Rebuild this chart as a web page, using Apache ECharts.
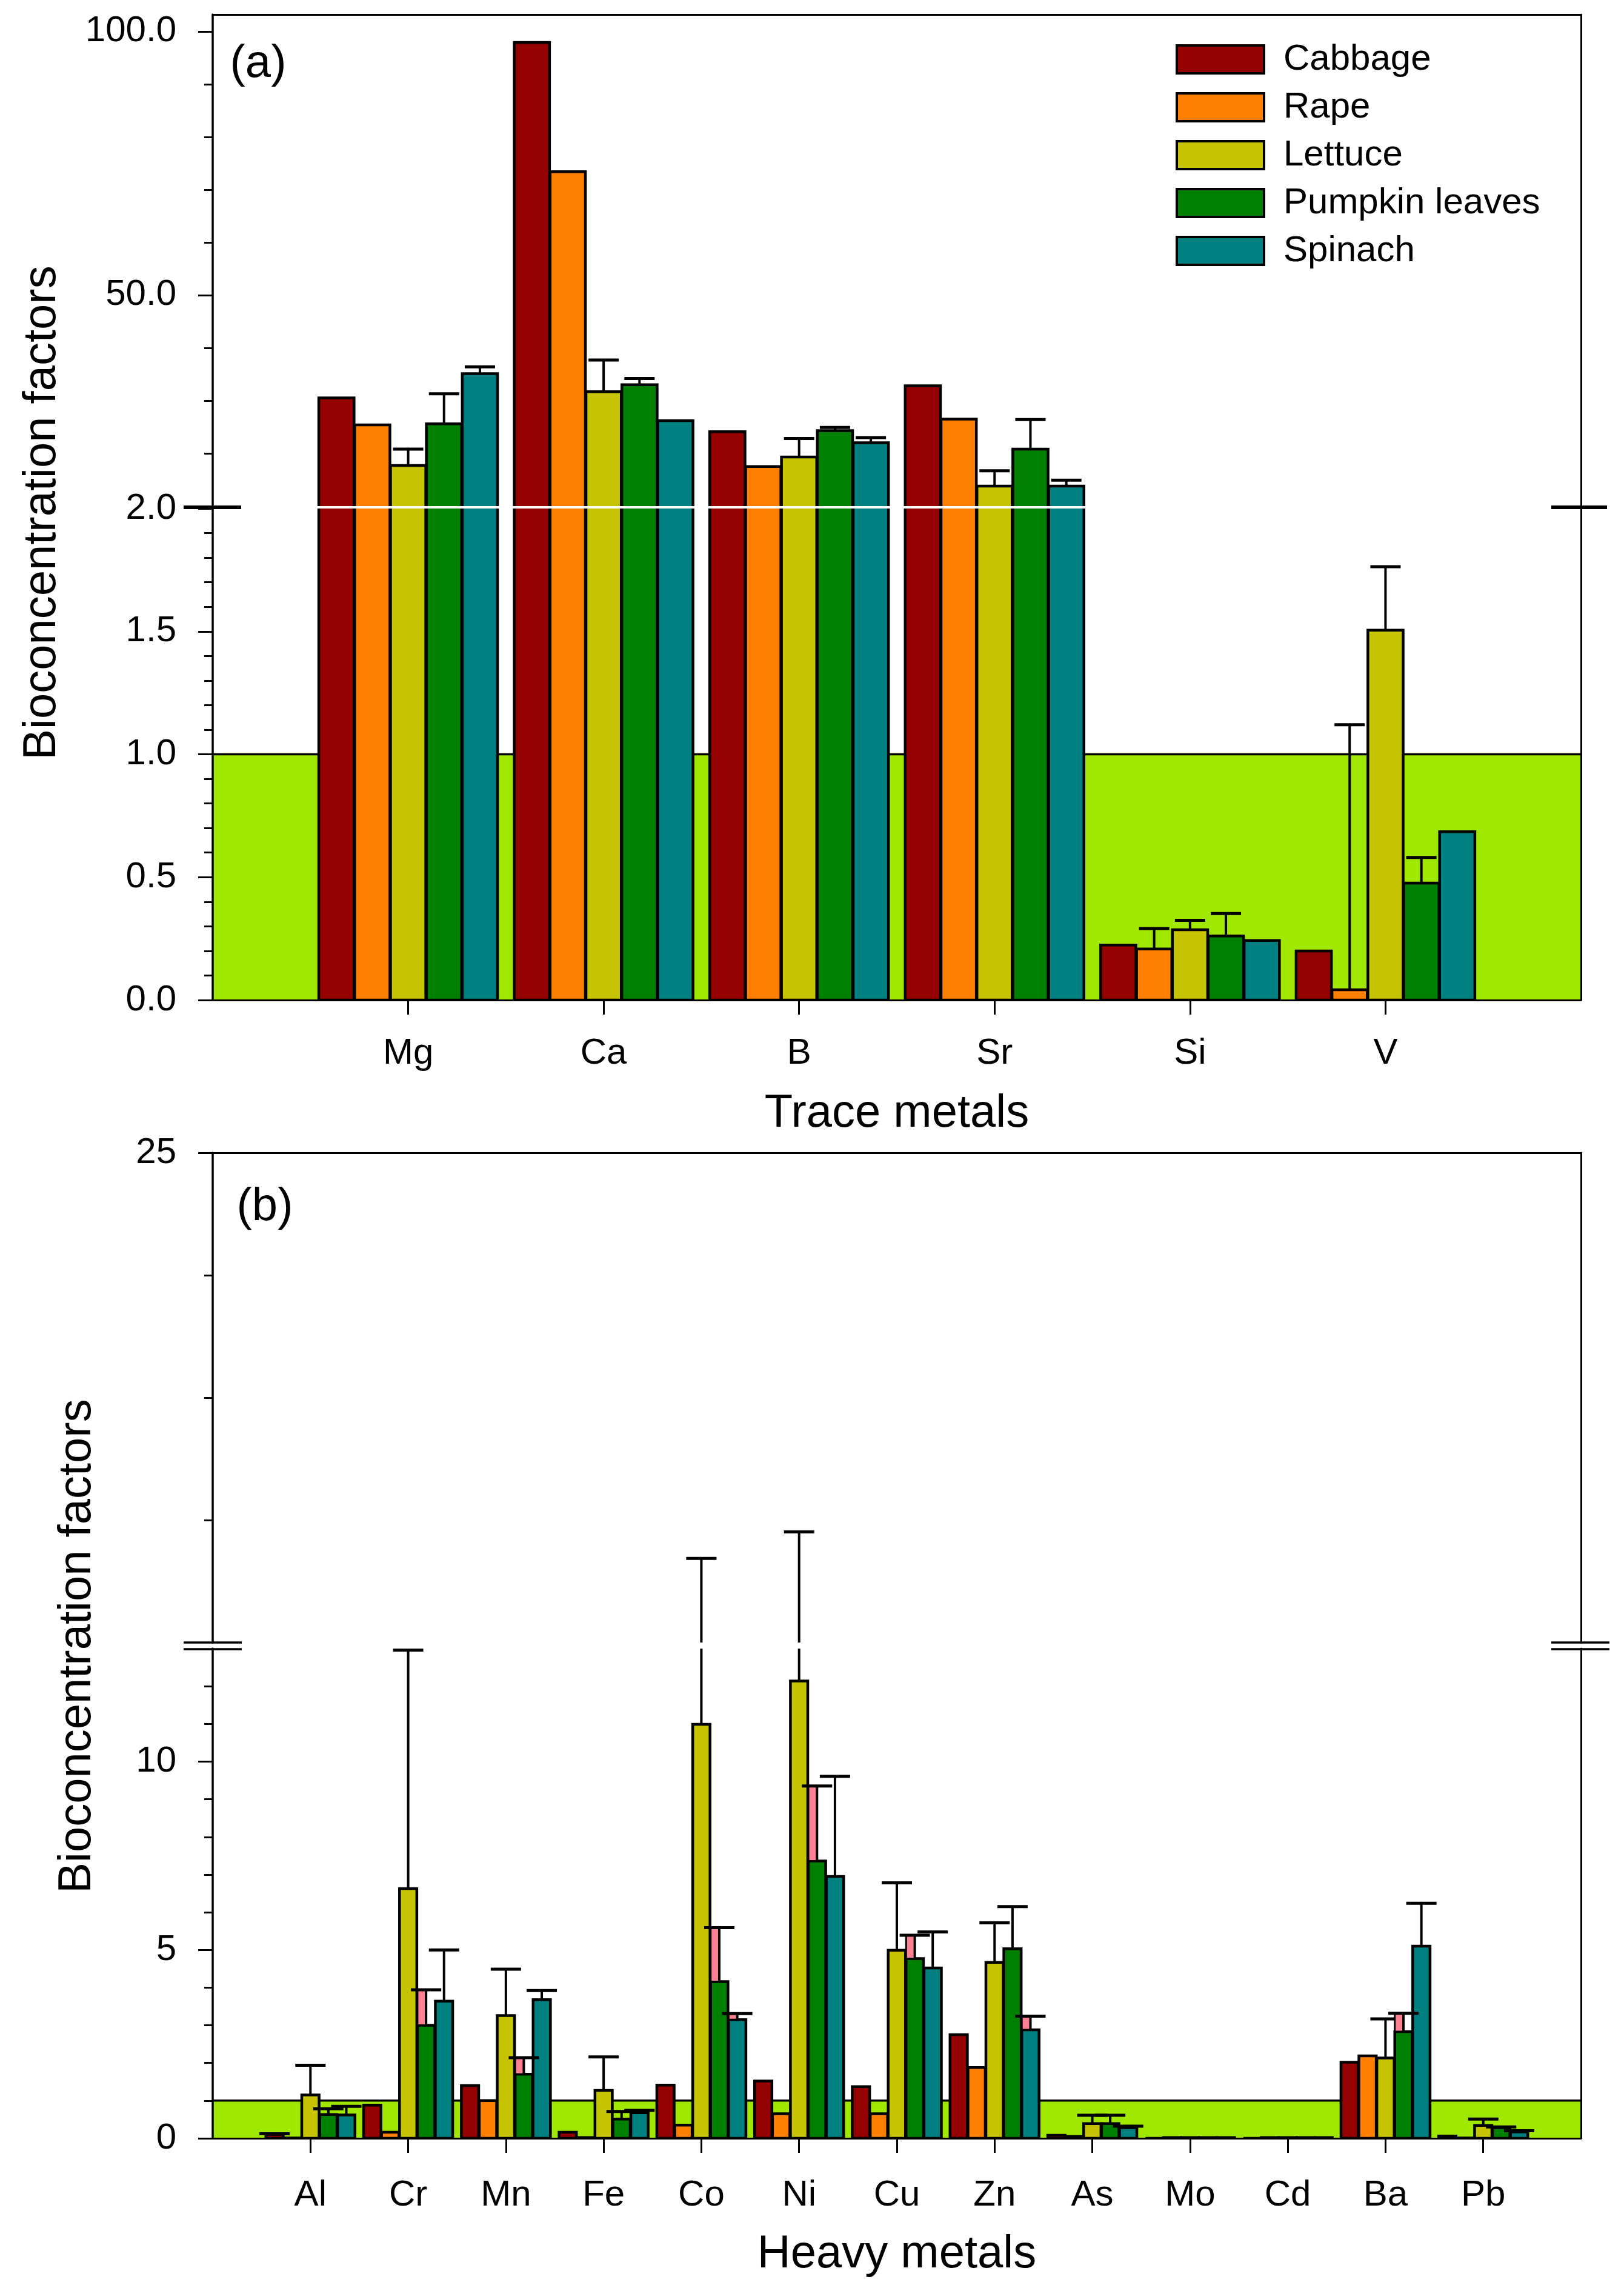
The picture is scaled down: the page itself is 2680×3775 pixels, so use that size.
<!DOCTYPE html>
<html lang="en">
<head>
<meta charset="UTF-8">
<script src="https://cdn.jsdelivr.net/npm/echarts@6/dist/echarts.min.js"></script>
<style>
    * { margin: 0; padding: 0; }
    body { background: #fff; }
    #chart { width: 2680px; height: 3775px; }
</style>
</head>
<body>
<div id="chart"></div>
<script>
    // vegetables (legend order)
    var vegNames = ['Cabbage', 'Rape', 'Lettuce', 'Pumpkin leaves', 'Spinach'];

    // panel (a) trace metals
    var traceMetals = ['Mg', 'Ca', 'B', 'Sr', 'Si', 'V'];
    var cabbageA = [30.5, 97.9, 24.1, 32.8, 0.224, 0.20];
    var rapeA    = [25.4, 73.4, 17.5, 26.5, 0.208, 0.042];
    var lettuceA = [17.7, 31.7, 19.3, 13.8, 0.286, 1.505];
    var pumpkinA = [25.6, 33.0, 24.3, 20.8, 0.261, 0.476];
    var spinachA = [35.1, 26.2, 22.0, 13.8, 0.242, 0.685];
    var cabbageAErr = [0, 0, 0, 0, 0, 0];
    var rapeAErr    = [0, 0, 0, 0, 0.083, 1.078];
    var lettuceAErr = [3.1, 6.0, 3.5, 2.9, 0.038, 0.258];
    var pumpkinAErr = [5.7, 1.2, 0.6, 5.6, 0.091, 0.104];
    var spinachAErr = [1.3, 0, 1.0, 1.1, 0, 0];

    // panel (b) heavy metals
    var heavyMetals = ['Al', 'Cr', 'Mn', 'Fe', 'Co', 'Ni', 'Cu', 'Zn', 'As', 'Mo', 'Cd', 'Ba', 'Pb'];
    var cabbageB = [0.10, 0.88, 1.40, 0.16, 1.41, 1.52, 1.37, 2.75, 0.08, 0, 0, 2.02, 0.06];
    var rapeB    = [0.01, 0.16, 1.00, 0.02, 0.35, 0.65, 0.65, 1.88, 0.05, 0.02, 0.02, 2.19, 0.01];
    var lettuceB = [1.15, 6.63, 3.26, 1.27, 10.99, 12.14, 4.99, 4.67, 0.39, 0.02, 0.02, 2.13, 0.34];
    var pumpkinB = [0.63, 3.00, 1.70, 0.51, 4.16, 7.36, 4.77, 5.03, 0.39, 0.02, 0.02, 2.83, 0.28];
    var spinachB = [0.62, 3.64, 3.68, 0.68, 3.15, 6.95, 4.52, 2.88, 0.28, 0.02, 0.02, 5.10, 0.17];
    var cabbageBErr = [0.02, 0, 0, 0, 0, 0, 0, 0, 0, 0, 0, 0, 0];
    var rapeBErr    = [0, 0, 0, 0, 0, 0, 0, 0, 0, 0, 0, 0, 0];
    var lettuceBErr = [0.79, 6.33, 1.23, 0.89, 4.07, 3.57, 1.79, 1.05, 0.22, 0, 0, 1.04, 0.17];
    var pumpkinBErr = [0.155, 0.94, 0.44, 0.20, 1.43, 1.99, 0.62, 1.12, 0.22, 0, 0, 0.49, 0.02];
    var spinachBErr = [0.23, 1.36, 0.24, 0.06, 0.16, 2.66, 0.96, 0.36, 0.04, 0, 0, 1.14, 0.03];
    // error bars drawn with the pink fill: [metal index, vegetable index]
    var pinkB = [[1, 3], [2, 3], [4, 3], [5, 3], [6, 3], [11, 3], [4, 4], [7, 4]];

    // tick values
    var labelsAHigh = [50, 100];
    var minorAHigh  = [20, 30, 40, 60, 70, 80, 90];
    var labelsALow  = [0, 0.5, 1, 1.5, 2];
    var minorALow   = [0.1, 0.2, 0.3, 0.4, 0.6, 0.7, 0.8, 0.9, 1.1, 1.2, 1.3, 1.4, 1.6, 1.7, 1.8, 1.9];
    var labelsBHigh = [25];
    var minorBHigh  = [16, 19, 22];
    var labelsBLow  = [0, 5, 10];
    var minorBLow   = [1, 2, 3, 4, 6, 7, 8, 9, 11, 12];
    var threshold = 1;

    var valsA = [cabbageA, rapeA, lettuceA, pumpkinA, spinachA];
    var errsA = [cabbageAErr, rapeAErr, lettuceAErr, pumpkinAErr, spinachAErr];
    var valsB = [cabbageB, rapeB, lettuceB, pumpkinB, spinachB];
    var errsB = [cabbageBErr, rapeBErr, lettuceBErr, pumpkinBErr, spinachBErr];

    var vegColors = ['#950000', '#ff8000', '#c6c300', '#008000', '#008080'];
    var FONT = 'Liberation Sans, Arial, sans-serif';

    var chart = echarts.init(document.getElementById('chart'));

    function padCats(list) {
        return [''].concat(list, ['']);
    }

    function catAxis(gi, cats, bottom, name, margin, gap) {
        var ax = {
            type: 'category', gridIndex: gi, data: padCats(cats), boundaryGap: false,
            position: bottom ? 'bottom' : 'top', z: 10,
            axisLine: {show: true, onZero: false, lineStyle: {color: '#000', width: 3}},
            splitLine: {show: false}
        };
        if (bottom) {
            ax.axisTick = {show: true, length: 24, lineStyle: {color: '#000', width: 3},
                interval: function (i) { return i > 0 && i <= cats.length; }};
            ax.axisLabel = {show: true, interval: 0, margin: margin, fontSize: 60, fontFamily: FONT, color: '#000'};
            ax.name = name;
            ax.nameLocation = 'middle';
            ax.nameGap = gap;
            ax.nameTextStyle = {fontSize: 76, fontFamily: FONT, color: '#000'};
        } else {
            ax.axisTick = {show: false};
            ax.axisLabel = {show: false};
        }
        return ax;
    }

    function valAxes(gi, lo, hi, labels, minors, fmt) {
        function base(extra) {
            var o = {type: 'value', gridIndex: gi, min: lo, max: hi, z: 10, splitLine: {show: false}};
            for (var k in extra) o[k] = extra[k];
            return o;
        }
        return [
            base({position: 'left',
                axisLine: {show: true, onZero: false, lineStyle: {color: '#000', width: 3.5}},
                axisTick: {show: true, customValues: labels, length: 24, lineStyle: {color: '#000', width: 3}},
                axisLabel: {show: true, customValues: labels, formatter: fmt, margin: 60,
                    fontSize: 60, fontFamily: FONT, color: '#000'}}),
            base({position: 'left',
                axisLine: {show: false},
                axisTick: {show: true, customValues: minors, length: 14, lineStyle: {color: '#000', width: 3}},
                axisLabel: {show: false}}),
            base({position: 'right',
                axisLine: {show: true, onZero: false, lineStyle: {color: '#000', width: 3}},
                axisTick: {show: false}, axisLabel: {show: false}})
        ];
    }

    function fmt1(v) { return v.toFixed(1); }
    function fmt0(v) { return String(v); }

    function barRender(k) {
        return function (params, api) {
            var ci = api.value(0), v = api.value(1);
            var band = api.size([1, 0])[0];
            var pitch = band * 0.1835;
            var base = api.coord([ci, 0]);
            var xc = base[0] + (k - 2) * pitch;
            var yTop = api.coord([ci, v])[1];
            var w = pitch - 1;
            return {
                type: 'rect',
                shape: {x: xc - w / 2, y: yTop, width: w, height: base[1] - yTop},
                style: {fill: vegColors[k], stroke: '#000', lineWidth: 4.5}
            };
        };
    }

    function errRender(k) {
        return function (params, api) {
            var ci = api.value(0), v = api.value(1), e = api.value(2), pk = api.value(3);
            if (!(e > 0)) return;
            var band = api.size([1, 0])[0];
            var pitch = band * 0.1835;
            var xc = api.coord([ci, 0])[0] + (k - 2) * pitch;
            var y1 = api.coord([ci, v])[1];
            var y2 = api.coord([ci, v + e])[1];
            var w = pitch - 1;
            var kids = [];
            if (pk) {
                kids.push({type: 'rect', shape: {x: xc - w / 2, y: y2, width: w / 2, height: y1 - y2},
                    style: {fill: '#ff8092', stroke: '#000', lineWidth: 3}});
            }
            kids.push({type: 'line', shape: {x1: xc, y1: y1, x2: xc, y2: y2},
                style: {stroke: '#000', lineWidth: 4}});
            kids.push({type: 'line', shape: {x1: xc - 25, y1: y2, x2: xc + 25, y2: y2},
                style: {stroke: '#000', lineWidth: 5}});
            return {type: 'group', children: kids};
        };
    }

    function isPink(list, i, k) {
        for (var j = 0; j < list.length; j++) {
            if (list[j][0] === i && list[j][1] === k) return 1;
        }
        return 0;
    }

    function panelSeries(gi, vals, errs, pinks) {
        var out = [];
        for (var k = 0; k < vals.length; k++) {
            var data = vals[k].map(function (v, i) {
                return [i + 1, v, errs[k][i], isPink(pinks, i, k)];
            });
            out.push({type: 'custom', name: vegNames[k], xAxisIndex: gi, yAxisIndex: gi * 3,
                clip: true, z: 3, silent: true, itemStyle: {color: vegColors[k]},
                encode: {x: 0, y: 1}, data: data, renderItem: barRender(k)});
        }
        for (var k2 = 0; k2 < vals.length; k2++) {
            var data2 = vals[k2].map(function (v, i) {
                return [i + 1, v, errs[k2][i], isPink(pinks, i, k2)];
            });
            out.push({type: 'custom', name: vegNames[k2], xAxisIndex: gi, yAxisIndex: gi * 3,
                clip: true, z: 4, silent: true, itemStyle: {color: vegColors[k2]},
                encode: {x: 0, y: 1}, data: data2, renderItem: errRender(k2)});
        }
        return out;
    }

    function bandSeries(gi) {
        return {
            type: 'custom', xAxisIndex: gi, yAxisIndex: gi * 3, z: 1, silent: true, clip: true,
            encode: {x: 0, y: 1}, data: [[0, threshold]],
            renderItem: function (params, api) {
                var cs = params.coordSys;
                var y = api.coord([0, api.value(1)])[1];
                var y0 = api.coord([0, 0])[1];
                return {type: 'group', children: [
                    {type: 'rect', shape: {x: cs.x, y: y, width: cs.width, height: y0 - y},
                        style: {fill: '#a0e800'}},
                    {type: 'line', shape: {x1: cs.x, y1: y, x2: cs.x + cs.width, y2: y},
                        style: {stroke: '#000', lineWidth: 3.5}}
                ]};
            }
        };
    }

    var series = [bandSeries(1), bandSeries(3)]
        .concat(panelSeries(0, valsA, errsA, []))
        .concat(panelSeries(1, valsA, errsA, []))
        .concat(panelSeries(2, valsB, errsB, pinkB))
        .concat(panelSeries(3, valsB, errsB, pinkB));

    var yAxes = []
        .concat(valAxes(0, 10, 103.2, labelsAHigh, minorAHigh, fmt1))
        .concat(valAxes(1, 0, 2, labelsALow, minorALow, fmt1))
        .concat(valAxes(2, 13, 25, labelsBHigh, minorBHigh, fmt0))
        .concat(valAxes(3, 0, 13, labelsBLow, minorBLow, fmt0));

    function breakLine(x1, x2, y, w) {
        return {type: 'line', z: 50, shape: {x1: x1, y1: y, x2: x2, y2: y},
            style: {stroke: '#000', lineWidth: w}};
    }

    var option = {
        animation: false,
        backgroundColor: '#fff',
        grid: [
            {left: 351, right: 71, top: 24, height: 811},
            {left: 351, right: 71, top: 839, height: 811},
            {left: 351, right: 71, top: 1902, height: 808},
            {left: 351, right: 71, top: 2720, height: 808}
        ],
        xAxis: [
            catAxis(0, traceMetals, false),
            catAxis(1, traceMetals, true, 'Trace metals', 58, 150),
            catAxis(2, heavyMetals, false),
            catAxis(3, heavyMetals, true, 'Heavy metals', 64, 154)
        ],
        yAxis: yAxes,
        legend: {
            orient: 'vertical', left: 1935, top: 63,
            itemWidth: 144, itemHeight: 46, itemGap: 19,
            icon: 'rect', selectedMode: false,
            textStyle: {fontSize: 60, fontFamily: FONT, color: '#000', padding: [0, 0, 0, 27]},
            data: vegNames.map(function (n, k) {
                return {name: n, itemStyle: {color: vegColors[k], borderColor: '#000', borderWidth: 4}};
            })
        },
        graphic: [
            {type: 'text', x: 70, y: 846, rotation: Math.PI / 2, z: 50,
                style: {text: 'Bioconcentration factors', fontSize: 76, fontFamily: FONT,
                    fill: '#000', align: 'center', verticalAlign: 'middle'}},
            {type: 'text', x: 128, y: 2716, rotation: Math.PI / 2, z: 50,
                style: {text: 'Bioconcentration factors', fontSize: 76, fontFamily: FONT,
                    fill: '#000', align: 'center', verticalAlign: 'middle'}},
            {type: 'text', x: 426, y: 106, z: 50,
                style: {text: '(a)', fontSize: 76, fontFamily: FONT, fill: '#000',
                    align: 'center', verticalAlign: 'middle'}},
            {type: 'text', x: 437, y: 1992, z: 50,
                style: {text: '(b)', fontSize: 76, fontFamily: FONT, fill: '#000',
                    align: 'center', verticalAlign: 'middle'}},
            breakLine(303, 398, 837, 6),
            breakLine(2560, 2652, 837, 6),
            breakLine(303, 399, 2710, 3.5),
            breakLine(303, 399, 2721, 3.5),
            breakLine(2560, 2656, 2710, 3.5),
            breakLine(2560, 2656, 2721, 3.5)
        ],
        series: series
    };

    chart.setOption(option);
</script>
</body>
</html>
